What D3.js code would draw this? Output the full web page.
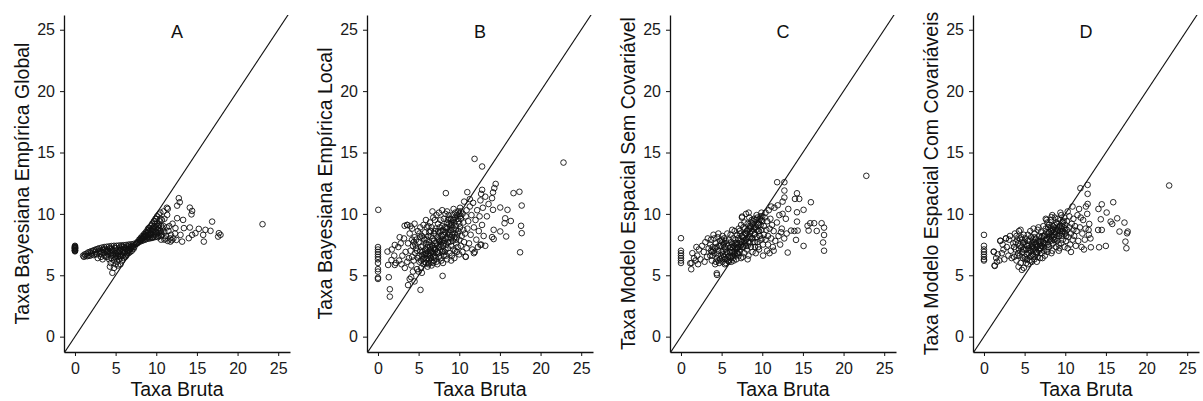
<!DOCTYPE html>
<html>
<head>
<meta charset="utf-8">
<script src="https://d3js.org/d3.v7.min.js"></script>
<style>
  body { margin: 0; background: #fff; }
  svg { font-family: "Liberation Sans", Arial, sans-serif; }
  .axis .domain { stroke: #111; stroke-width: 1.3; }
  .axis line { stroke: #111; stroke-width: 1; }
  .axis text { fill: #1a1a1a; font-size: 16px; }
</style>
</head>
<body>
<div id="chart"></div>
<script>
// panel letters and y-axis titles
var letters = ["A", "B", "C", "D"];
var yTitles = [
  "Taxa Bayesiana Empírica Global",
  "Taxa Bayesiana Empírica Local",
  "Taxa Modelo Espacial Sem Covariável",
  "Taxa Modelo Espacial Com Covariáveis"
];
var xTitle = "Taxa Bruta";
var tickValues = [0, 5, 10, 15, 20, 25];

// [taxa bruta, taxa estimada]
var pointsA = [
  [0,6.95],[0,7.0],[0,7.02],[0,7.05],[0,7.1],[0,7.15],[0,7.18],[0,7.2],[0,7.25],[0,7.28],[0,7.3],[0,7.35],[0,7.4],
  [1.0,6.6],[1.2,6.7],[1.4,6.75],[1.6,6.85],[1.8,6.9],[2.0,6.95],[2.2,7.0],[2.4,7.05],[2.6,7.1],[2.8,7.15],[3.0,7.2],
  [3.3,7.25],[3.6,7.3],[3.9,7.32],[4.2,7.35],[4.5,7.38],[4.8,7.4],[5.1,7.4],[5.4,7.42],[5.7,7.44],[6.0,7.45],[6.3,7.47],
  [6.6,7.5],[6.9,7.52],[7.2,7.55],[7.5,7.58],
  [1.1,6.5],[1.5,6.55],[1.9,6.6],[2.3,6.65],[2.7,6.7],[3.1,6.75],[3.5,6.8],[3.9,6.85],[4.3,6.9],[4.7,6.95],[5.1,7.0],
  [5.5,7.05],[5.9,7.1],[6.3,7.15],[6.7,7.25],[7.1,7.35],
  [2.0,6.8],[2.5,6.9],[3.0,7.0],[3.5,7.05],[4.0,7.1],[4.5,7.15],[5.0,7.2],[5.5,7.25],[6.0,7.3],[6.5,7.35],[7.0,7.4],
  [4.6,5.2],[4.8,5.6],[5.0,5.9],[4.4,6.0],[4.2,6.3],[3.8,6.5],[5.2,6.1],[5.4,6.3],[5.6,5.9],[5.8,6.2],[6.0,6.4],
  [5.3,5.8],[6.2,6.5],[6.4,6.7],[6.6,6.8],[6.8,6.9],[7.0,7.0],[7.2,7.15],[5.7,6.6],[6.1,6.8],[4.9,6.5],[4.5,6.6],
  [5.3,6.7],[5.9,6.9],[3.6,6.6],[3.2,6.5],[2.8,6.4],[6.6,7.05],[7.3,7.3],[4.1,6.7],[5.0,6.4],[4.3,5.7],[3.4,6.3],
  [3.0,6.9],[3.4,7.1],[3.7,7.15],[4.0,6.95],[4.3,7.2],[4.6,7.05],[4.9,7.25],[5.2,6.85],[5.5,6.95],[5.8,7.35],
  [6.1,7.2],[6.4,7.0],[6.7,7.4],[4.1,7.0],[4.4,6.8],[4.7,6.7],[5.0,6.75],[5.3,6.55],[5.6,6.45],[5.9,6.6],[6.2,6.9],
  [6.5,6.95],[6.8,7.15],[7.1,7.25],[4.5,6.4],[4.8,6.2],[5.1,6.6],[5.4,6.9],[5.7,7.15],[6.0,7.0],[6.3,6.6],[3.8,7.0],
  [3.3,6.85],[2.6,6.75],[2.1,6.7],[1.7,6.6],[1.3,6.6],[4.0,6.5],[5.5,6.55],[6.9,7.3],
  [7.4,7.5],[7.55,7.55],[7.6,7.6],[7.65,7.7],[7.7,7.62],
  [7.8,7.7],[8.0,7.75],[8.2,7.8],[8.4,7.85],[8.6,7.9],[8.8,7.95],[9.0,8.0],[9.2,8.0],[9.4,8.05],[9.6,8.1],[9.8,8.1],
  [10.0,8.15],[10.3,8.2],[10.6,8.2],
  [7.9,7.9],[8.1,8.05],[8.3,8.2],[8.5,8.35],[8.7,8.5],[8.9,8.65],[9.1,8.85],[9.3,9.0],[9.5,9.2],[9.7,9.4],[9.9,9.6],
  [10.1,9.8],[10.3,9.95],[10.5,10.1],
  [8.4,8.1],[8.7,8.2],[9.0,8.3],[9.3,8.4],[9.6,8.5],[9.9,8.6],[10.2,8.7],[10.5,8.6],[8.9,8.4],[9.2,8.6],[9.5,8.8],
  [9.8,9.0],[10.1,9.2],[10.4,9.4],[9.4,8.3],[9.7,8.7],[10.0,8.9],[10.3,9.1],[10.6,9.0],[10.8,8.8],[11.0,8.5],[11.2,8.2],
  [11.0,9.6],[10.9,10.2],[11.3,10.5],[10.7,9.5],[11.5,8.6],[11.8,8.3],[12.1,8.0],[11.6,9.0],[12.0,9.2],[10.6,7.9],
  [11.0,7.9],[11.4,7.8],[11.9,7.85],
  [8.0,7.9],[8.2,7.95],[8.4,8.0],[8.6,8.1],[8.8,8.2],[9.0,8.5],[9.2,8.3],[9.4,8.6],[9.6,8.8],[9.8,8.3],[10.0,8.5],
  [10.2,9.0],[10.4,8.8],[8.3,8.05],[8.6,8.3],[8.9,8.1],[9.1,8.15],[9.3,8.7],[9.5,8.05],[9.7,8.95],[9.9,9.2],[10.1,8.4],
  [10.3,8.45],[10.5,9.6],[10.7,8.3],[10.9,9.0],[8.1,7.85],[8.5,8.15],[9.0,8.8],[9.8,9.4],[10.0,9.6],[10.2,8.1],
  [10.6,8.5],[11.1,8.0],[11.3,8.9],[11.7,8.0],[12.3,8.4],
  [12.77,11.28],[12.89,10.95],[12.57,10.67],[14.13,10.51],[14.41,10.24],[14.33,9.96],[11.42,10.41],[11.34,9.92],
  [12.57,9.65],[13.3,9.51],[16.87,9.37],[14.13,8.89],[15.23,8.78],[16.05,8.7],[16.67,8.62],[15.77,8.29],[17.7,8.43],
  [17.61,8.15],[17.9,8.29],[15.85,7.74],[14.41,8.29],[14.82,8.43],[14.0,8.02],[13.18,7.74],[12.48,7.88],[12.98,8.29],
  [11.74,7.74],[23.07,9.16],[12.36,8.84],[13.4,8.84]
];

var pointsB = [
  [0,7.3],[0,7.1],[0,6.9],[0,6.7],[0,6.5],[0,6.3],[0,6.0],[0,5.5],[0,5.3],[0,4.8],[0,4.7],[0.04,10.33],
  [1.46,3.86],[1.46,3.26],[1.33,4.84],[4.5,4.5],[3.7,4.2],[4.09,4.84],[2.07,5.84],[1.25,5.84],[1.66,6.24],
  [2.67,8.1],[3.28,9.03],[3.6,9.1],[1.17,6.93],[2.07,7.47],[5.23,3.81],[7.95,4.95],
  [2.2,6.0],[2.5,7.3],[2.8,7.6],[3.0,6.6],[3.2,8.0],[3.4,6.9],[2.0,6.6],[2.6,6.2],[1.7,7.1],[3.6,9.1],[3.3,5.6],[2.9,5.9],
  [3.7,7.6],[3.8,6.4],[3.9,8.4],[4.0,7.0],[4.1,5.8],[4.2,8.8],[4.3,7.4],[4.4,6.2],[4.5,8.1],[4.6,6.8],[4.7,7.9],
  [4.8,5.5],[4.9,8.6],[4.0,9.0],[4.5,9.2],[3.9,4.7],[4.3,5.3],[4.7,7.2],[4.9,6.4],[4.2,7.9],[3.6,6.1],
  [5.0,7.7],[5.1,6.1],[5.2,8.9],[5.2,7.0],[5.3,5.6],[5.4,8.2],[5.4,6.6],[5.5,7.4],[5.6,9.1],[5.6,5.9],[5.7,7.9],
  [5.7,6.4],[5.8,8.5],[5.8,7.1],[5.9,6.0],[5.9,7.6],[6.0,8.9],[5.1,8.4],[5.3,7.3],[5.5,6.3],[5.6,8.0],[5.8,6.7],
  [5.0,5.3],[5.4,5.2],[5.9,9.5],
  [6.0,6.3],[6.1,7.3],[6.1,5.7],[6.2,8.2],[6.2,6.8],[6.3,7.7],[6.3,6.0],[6.4,9.3],[6.4,7.0],[6.5,8.6],[6.5,6.4],
  [6.6,7.5],[6.6,5.8],[6.7,8.0],[6.7,6.9],[6.8,9.7],[6.8,7.2],[6.9,6.2],[6.9,8.4],[7.0,7.6],[6.0,7.9],[6.2,9.0],
  [6.4,6.6],[6.6,8.9],[6.8,6.5],[6.3,8.5],[6.7,10.2],[6.5,7.1],
  [7.0,6.6],[7.1,8.8],[7.1,7.1],[7.2,9.9],[7.2,6.1],[7.3,8.1],[7.3,7.4],[7.4,9.2],[7.4,6.8],[7.5,7.9],[7.5,10.1],
  [7.6,7.0],[7.6,8.5],[7.7,6.4],[7.7,9.5],[7.8,7.7],[7.8,8.2],[7.9,6.9],[7.9,9.0],[8.0,7.4],[7.0,9.5],[7.3,5.9],
  [7.6,8.9],[7.9,10.3],[7.8,6.2],
  [8.0,8.7],[8.1,6.6],[8.1,9.6],[8.2,7.8],[8.2,8.3],[8.3,7.1],[8.3,10.0],[8.4,8.9],[8.4,7.5],[8.5,9.3],[8.5,6.3],
  [8.6,8.0],[8.6,7.2],[8.7,9.9],[8.7,8.5],[8.8,7.7],[8.8,6.8],[8.9,9.0],[8.9,8.1],[9.0,7.4],[8.0,6.0],[8.5,10.2],
  [8.8,9.6],[8.2,6.9],
  [9.0,9.6],[9.1,8.3],[9.1,6.6],[9.2,9.9],[9.2,7.8],[9.3,8.8],[9.3,7.1],[9.4,9.3],[9.4,6.4],[9.5,8.4],[9.5,10.1],
  [9.6,7.6],[9.6,9.0],[9.7,8.1],[9.7,6.9],[9.8,9.6],[9.8,7.3],[9.9,8.6],[9.9,10.2],[10.0,7.9],[9.0,6.2],[9.5,7.0],
  [10.0,9.2],[9.3,10.4],
  [5.5,6.9],[5.7,6.1],[5.9,6.8],[6.1,6.6],[6.2,7.5],[6.3,6.3],[6.4,7.3],[6.5,6.8],[6.6,6.1],[6.7,7.4],[6.8,6.8],
  [6.9,7.8],[7.0,7.1],[7.1,6.4],[7.2,7.6],[7.3,6.9],[7.4,8.0],[7.5,7.3],[7.6,7.8],[7.7,7.5],[7.8,8.6],[7.9,7.9],
  [8.0,8.3],[8.1,7.6],[8.2,8.9],[8.3,8.5],[8.4,8.0],[8.5,8.8],[8.6,7.7],[8.7,9.2],[8.8,8.3],[8.9,8.7],[9.0,8.0],
  [9.1,9.1],[9.2,8.5],[9.3,9.5],[9.4,8.1],[9.5,9.7],[9.6,8.7],[9.7,9.9],[9.8,8.4],[9.9,9.4],[10.0,10.0],[10.1,9.8],
  [10.2,10.2],[6.0,7.0],[5.6,6.7],[5.3,6.2],[5.0,6.6],[4.8,7.0],[4.6,7.5],[4.4,7.7],[4.2,6.5],[5.2,8.1],[6.5,8.2],
  [7.0,8.6],[7.4,8.6],[8.6,9.5],[9.0,9.3],[6.2,5.9],[6.8,6.0],[7.5,6.5],[8.0,7.0],[8.4,6.6],[9.6,7.9],
  [10.0,6.7],[10.1,8.9],[10.1,10.5],[10.2,7.4],[10.2,9.6],[10.3,8.2],[10.4,10.0],[10.4,6.9],[10.5,8.7],[10.5,9.3],
  [10.6,7.7],[10.6,11.0],[10.7,8.4],[10.8,9.8],[10.8,6.5],[10.9,7.2],[10.9,10.3],[11.0,8.8],
  [11.1,9.4],[11.2,7.6],[11.3,10.6],[11.4,8.3],[11.5,9.9],[11.6,7.1],[11.7,10.9],[11.8,8.9],[12.0,9.5],[12.1,7.9],
  [12.2,10.3],[12.4,8.6],[12.5,9.8],[12.6,11.1],[12.8,9.1],[12.9,10.5],[13.0,8.2],[13.2,11.4],[13.4,9.8],[11.3,11.2],
  [12.3,7.3],[11.9,6.9],[13.6,10.8],[12.7,7.5],
  [11.88,14.48],[12.81,13.86],[22.82,14.18],[14.48,12.44],[14.31,12.1],[14.15,11.75],[14.03,11.28],[12.81,11.96],
  [12.69,11.63],[10.99,11.77],[8.35,11.69],[16.67,11.69],[17.4,11.8],[17.68,10.68],[15.93,10.33],[15.04,10.52],
  [14.15,10.33],[16.34,9.42],[15.65,9.64],[15.57,9.24],[17.6,9.03],[17.68,8.43],[15.77,8.16],[15.04,8.57],
  [14.23,8.7],[14.03,8.11],[14.23,7.95],[17.48,6.87],[13.2,7.4],[12.6,7.48],[11.8,6.8],[10.78,6.52]
];

var pointsC = [
  [0,8.02],[0,7.0],[0,6.8],[0,6.6],[0,6.4],[0,6.2],[0,6.0],[1.26,5.49],[1.14,5.98],[4.43,5.03],[4.4,5.16],
  [1.3,6.0],[1.4,6.8],[1.6,6.4],[1.8,6.2],[2.0,6.6],[2.2,7.1],[2.4,6.3],[2.6,7.4],[2.8,6.9],[3.0,7.7],[3.2,6.5],
  [3.4,7.2],[2.1,5.9],[2.9,6.1],[3.3,8.0],[1.9,7.3],
  [3.6,6.6],[3.7,7.9],[3.8,6.2],[3.9,7.3],[4.0,8.3],[4.1,6.8],[4.2,5.9],[4.3,7.6],[4.4,6.4],[4.5,8.1],[4.6,7.0],
  [4.7,6.0],[4.8,7.8],[4.9,6.6],[3.6,7.5],[4.0,7.0],[4.4,7.3],[4.8,6.3],[4.1,8.0],[4.6,8.4],[3.8,6.9],[4.9,7.4],
  [5.0,6.9],[5.1,8.2],[5.1,6.1],[5.2,7.5],[5.3,6.5],[5.3,8.0],[5.4,5.9],[5.5,7.1],[5.5,7.8],[5.6,6.3],[5.7,8.4],
  [5.7,6.8],[5.8,7.4],[5.9,6.1],[5.9,7.9],[5.2,6.7],[5.6,7.6],[5.0,7.9],[5.4,7.3],[5.8,6.5],[5.5,6.0],
  [6.0,6.6],[6.0,7.2],[6.1,8.3],[6.2,6.1],[6.2,7.7],[6.3,6.9],[6.4,8.0],[6.4,6.4],[6.5,7.4],[6.6,8.6],[6.6,6.7],
  [6.7,7.9],[6.8,7.1],[6.8,6.3],[6.9,8.3],[6.9,7.6],[6.1,6.9],[6.5,6.2],[6.7,7.3],[6.3,8.7],[6.9,6.8],
  [7.0,7.3],[7.1,8.8],[7.1,6.6],[7.2,7.9],[7.3,8.4],[7.3,7.1],[7.4,6.4],[7.5,9.7],[7.5,7.7],[7.6,8.1],[7.7,7.3],
  [7.7,8.9],[7.8,6.8],[7.9,8.4],[7.9,7.6],[7.2,6.9],[7.4,9.1],[7.6,6.5],[7.8,9.3],[8.0,10.0],[7.0,8.0],
  [8.0,7.9],[8.1,8.6],[8.1,7.1],[8.2,9.2],[8.3,8.1],[8.3,6.6],[8.4,7.6],[8.5,9.0],[8.5,8.4],[8.6,7.3],[8.7,9.5],
  [8.7,8.0],[8.8,6.9],[8.9,8.8],[8.9,7.7],[8.2,6.3],[8.6,8.9],[8.4,9.7],[8.8,9.2],[8.0,7.4],
  [9.0,8.3],[9.0,9.6],[9.1,7.3],[9.2,8.9],[9.3,8.1],[9.3,9.9],[9.4,7.7],[9.5,8.6],[9.6,9.3],[9.6,7.1],[9.7,8.2],
  [9.8,9.8],[9.8,7.9],[9.9,8.7],[10.0,9.4],[9.2,6.8],[9.5,7.3],[9.9,10.1],[9.4,9.2],[10.0,8.0],
  [5.0,6.4],[5.2,7.0],[5.4,6.3],[5.6,6.9],[5.8,6.2],[6.0,6.9],[6.1,6.4],[6.2,7.3],[6.3,6.6],[6.4,7.2],[6.5,6.9],
  [6.6,7.6],[6.7,6.6],[6.8,7.5],[6.9,7.2],[7.0,6.8],[7.1,7.6],[7.2,7.3],[7.3,7.8],[7.4,7.5],[7.5,8.2],[7.6,7.3],
  [7.7,8.3],[7.8,7.8],[7.9,8.8],[8.0,8.4],[8.1,8.0],[8.2,8.7],[8.3,7.7],[8.4,8.8],[8.5,8.1],[8.6,9.3],[8.7,8.6],
  [8.8,8.0],[8.9,9.4],[9.0,8.9],[9.1,8.4],[9.2,9.5],[9.3,8.7],[9.4,9.7],[9.5,9.1],[9.6,8.6],[9.7,9.6],[9.8,9.1],
  [9.9,9.5],[10.0,9.8],[4.5,6.7],[4.7,7.4],[4.2,7.2],[3.9,6.6],[4.3,6.1],[4.6,6.2],[3.7,7.0],[5.1,7.7],[5.3,7.6],
  [6.3,7.5],[7.2,8.6],[8.2,7.4],[9.1,7.7],
  [10.1,7.5],[10.2,9.0],[10.2,8.3],[10.3,9.7],[10.4,7.9],[10.5,8.7],[10.6,9.4],[10.6,7.0],[10.7,8.2],[10.8,10.3],
  [10.9,8.8],[10.9,6.8],[11.0,9.6],[10.4,10.1],[10.7,7.5],[10.1,6.6],
  [11.1,8.0],[11.2,9.1],[11.3,7.3],[11.4,8.6],[11.5,10.5],[11.6,7.8],[11.8,9.3],[12.0,8.2],[12.1,9.9],[12.2,7.5],
  [12.4,8.8],[12.5,10.0],[12.7,8.0],[12.9,9.6],[11.9,10.7],[12.3,8.5],[13.0,8.4],[11.4,7.0],
  [22.8,13.1],[11.83,12.58],[12.72,12.58],[12.72,11.9],[14.27,11.68],[14.02,11.22],[14.55,11.22],[12.72,11.33],
  [12.5,11.0],[15.98,10.95],[11.1,10.6],[13.2,10.4],[14.27,10.13],[15.08,10.33],[8.33,10.1],[7.52,9.78],[15.9,9.24],
  [15.57,9.03],[16.38,9.24],[17.3,9.24],[17.6,8.88],[16.7,8.61],[15.7,8.64],[14.27,9.37],[13.95,8.61],[14.35,8.64],
  [13.54,8.64],[14.15,7.88],[17.6,8.28],[17.48,7.67],[17.6,7.0],[15.08,7.39],[13.13,6.85]
];

var pointsD = [
  [0,8.29],[0,7.4],[0,7.1],[0,6.9],[0,6.7],[0,6.5],[0,6.3],[0,6.2],[1.21,6.93],[1.33,5.76],[2.03,7.82],[2.71,8.0],
  [7.69,9.51],[8.3,9.73],[4.66,5.44],[4.25,5.7],
  [1.2,6.9],[1.3,5.8],[1.5,6.4],[1.7,6.7],[1.9,6.2],[2.0,7.8],[2.2,6.8],[2.4,7.1],[2.5,6.3],[2.7,8.0],[2.8,7.3],
  [3.0,6.6],[3.1,7.9],[3.3,7.0],[3.4,6.4],[2.3,7.5],[3.2,8.2],[1.6,6.1],
  [3.6,7.6],[3.7,6.5],[3.8,8.4],[3.9,7.1],[4.0,6.2],[4.1,7.9],[4.2,6.8],[4.3,8.6],[4.4,7.4],[4.5,6.0],[4.6,8.1],
  [4.7,6.9],[4.8,7.6],[4.9,5.6],[3.7,7.3],[4.2,7.6],[4.5,8.7],[4.8,6.4],[4.0,8.2],[4.4,6.6],[4.9,8.3],
  [5.0,7.1],[5.1,6.3],[5.1,8.0],[5.2,7.5],[5.3,6.7],[5.4,8.3],[5.4,5.9],[5.5,7.2],[5.6,7.8],[5.7,6.5],[5.7,8.6],
  [5.8,7.0],[5.9,6.1],[5.9,7.6],[5.2,6.0],[5.5,6.8],[5.8,8.1],[5.0,7.7],[5.3,7.4],[5.6,6.2],
  [6.0,6.7],[6.0,7.9],[6.1,7.2],[6.2,6.3],[6.2,8.4],[6.3,7.5],[6.4,6.9],[6.4,8.0],[6.5,7.3],[6.6,6.5],[6.6,8.7],
  [6.7,7.7],[6.8,7.0],[6.8,8.2],[6.9,6.4],[6.9,7.5],[6.1,8.8],[6.5,6.1],[6.3,7.9],[6.7,8.9],[6.0,7.4],
  [7.0,7.2],[7.0,8.5],[7.1,6.8],[7.2,7.8],[7.3,9.0],[7.3,7.3],[7.4,8.2],[7.5,6.6],[7.5,7.6],[7.6,8.8],[7.7,7.1],
  [7.7,8.0],[7.8,9.3],[7.9,7.5],[7.9,8.4],[7.2,6.4],[7.6,9.6],[7.4,7.0],[7.8,6.9],[8.0,8.1],
  [8.0,7.3],[8.1,8.8],[8.2,7.8],[8.2,9.5],[8.3,8.3],[8.4,7.0],[8.5,9.0],[8.5,7.6],[8.6,8.5],[8.7,9.7],[8.7,7.9],
  [8.8,8.8],[8.9,7.3],[8.9,9.3],[8.3,6.8],[8.6,8.1],[8.0,9.1],[8.8,8.3],[8.4,9.9],
  [9.0,8.6],[9.0,7.8],[9.1,9.6],[9.2,8.2],[9.3,7.2],[9.3,9.0],[9.4,8.6],[9.5,9.9],[9.5,7.6],[9.6,8.4],[9.7,9.3],
  [9.7,7.9],[9.8,8.9],[9.9,7.3],[9.9,9.7],[10.0,8.4],[9.2,7.0],[9.6,9.0],[9.4,10.1],[10.0,9.1],
  [5.0,6.5],[5.2,7.1],[5.3,6.3],[5.5,7.5],[5.6,7.0],[5.8,6.6],[5.9,7.3],[6.0,7.1],[6.1,6.6],[6.2,7.7],[6.3,7.1],
  [6.4,7.6],[6.5,6.8],[6.6,7.4],[6.7,7.1],[6.8,7.8],[6.9,7.2],[7.0,7.7],[7.1,7.4],[7.2,8.2],[7.3,7.7],[7.4,7.6],
  [7.5,8.3],[7.6,7.9],[7.7,8.5],[7.8,7.9],[7.9,8.9],[8.0,8.5],[8.1,8.0],[8.2,8.6],[8.3,8.9],[8.4,8.2],[8.5,8.7],
  [8.6,7.9],[8.7,9.1],[8.8,8.5],[8.9,8.0],[9.0,9.2],[9.1,8.7],[9.2,8.9],[9.3,8.4],[9.4,9.5],[9.5,8.8],[9.6,8.2],
  [9.7,8.6],[9.8,9.4],[9.9,8.5],[10.0,8.8],[4.3,7.1],[4.6,7.3],[4.1,6.6],[4.7,7.9],[3.9,7.7],[4.4,8.0],[4.8,7.1],
  [5.4,7.8],[6.2,8.1],[7.1,8.1],[8.3,7.5],[9.2,7.5],[10.1,8.2],
  [10.1,7.8],[10.2,9.4],[10.2,8.7],[10.3,7.2],[10.4,8.1],[10.5,9.8],[10.5,8.9],[10.6,7.5],[10.7,8.4],[10.8,9.2],
  [10.9,7.9],[11.0,8.7],[10.3,10.2],[10.7,6.9],[11.0,9.6],
  [11.1,8.2],[11.2,9.0],[11.3,7.4],[11.4,8.6],[11.5,9.9],[11.6,7.8],[11.8,8.9],[12.0,7.3],[12.1,8.4],[12.2,9.5],
  [12.4,7.9],[12.5,8.8],[12.7,10.0],[12.9,8.3],[11.9,9.7],[12.3,7.1],[13.1,8.0],[11.7,10.4],
  [22.78,12.31],[11.86,12.09],[12.75,12.36],[12.75,11.63],[15.9,10.95],[14.49,10.78],[14.08,10.4],[15.09,10.11],
  [12.54,10.6],[12.75,10.81],[10.89,10.6],[16.39,9.64],[17.28,9.29],[17.68,8.56],[17.6,8.42],[16.67,8.56],
  [17.4,7.74],[17.52,7.2],[15.58,9.37],[15.78,9.18],[14.37,9.56],[14.04,8.69],[14.49,8.69],[13.15,7.28],
  [14.16,7.28],[14.99,7.39],[12.95,9.18],[12.87,8.69]
];

var panels = [pointsA, pointsB, pointsC, pointsD];

var W = 1203, H = 401;
var plot = { top: 15, height: 337, width: 226, first: 64, step: 303 };

var svg = d3.select("#chart").append("svg")
  .attr("width", W)
  .attr("height", H);

var x = d3.scaleLinear().domain([-1.35, 26.45]).range([0, plot.width]);
var y = d3.scaleLinear().domain([-1.25, 26.2]).range([plot.height, 0]);

svg.append("clipPath")
  .attr("id", "plotclip")
  .append("rect")
  .attr("width", plot.width)
  .attr("height", plot.height);

panels.forEach(function(pts, i) {
  var g = svg.append("g")
    .attr("transform", "translate(" + (plot.first + i * plot.step) + "," + plot.top + ")");

  var inner = g.append("g").attr("clip-path", "url(#plotclip)");

  // identity line
  inner.append("line")
    .attr("x1", x(-1.35)).attr("y1", y(-1.35))
    .attr("x2", x(26.45)).attr("y2", y(26.45))
    .attr("stroke", "#111")
    .attr("stroke-width", 1.1);

  inner.selectAll("circle")
    .data(pts)
    .enter()
    .append("circle")
    .attr("cx", function(d) { return x(d[0]); })
    .attr("cy", function(d) { return y(d[1]); })
    .attr("r", 2.8)
    .attr("fill", "none")
    .attr("stroke", "#111")
    .attr("stroke-width", 0.9);

  g.append("g")
    .attr("class", "axis")
    .call(d3.axisLeft(y).tickValues(tickValues).tickSize(4).tickSizeOuter(0).tickPadding(5));

  g.append("g")
    .attr("class", "axis")
    .attr("transform", "translate(0," + plot.height + ")")
    .call(d3.axisBottom(x).tickValues(tickValues).tickSize(4).tickSizeOuter(0).tickPadding(7));

  g.append("text")
    .attr("x", plot.width / 2)
    .attr("y", 23)
    .attr("text-anchor", "middle")
    .style("font-size", "18px")
    .attr("fill", "#111")
    .text(letters[i]);

  g.append("text")
    .attr("transform", "translate(-35," + (plot.height / 2) + ") rotate(-90)")
    .attr("text-anchor", "middle")
    .style("font-size", "19.5px")
    .attr("fill", "#111")
    .text(yTitles[i]);

  g.append("text")
    .attr("x", plot.width / 2)
    .attr("y", 381)
    .attr("text-anchor", "middle")
    .style("font-size", "19.5px")
    .attr("fill", "#111")
    .text(xTitle);
});
</script>
</body>
</html>
